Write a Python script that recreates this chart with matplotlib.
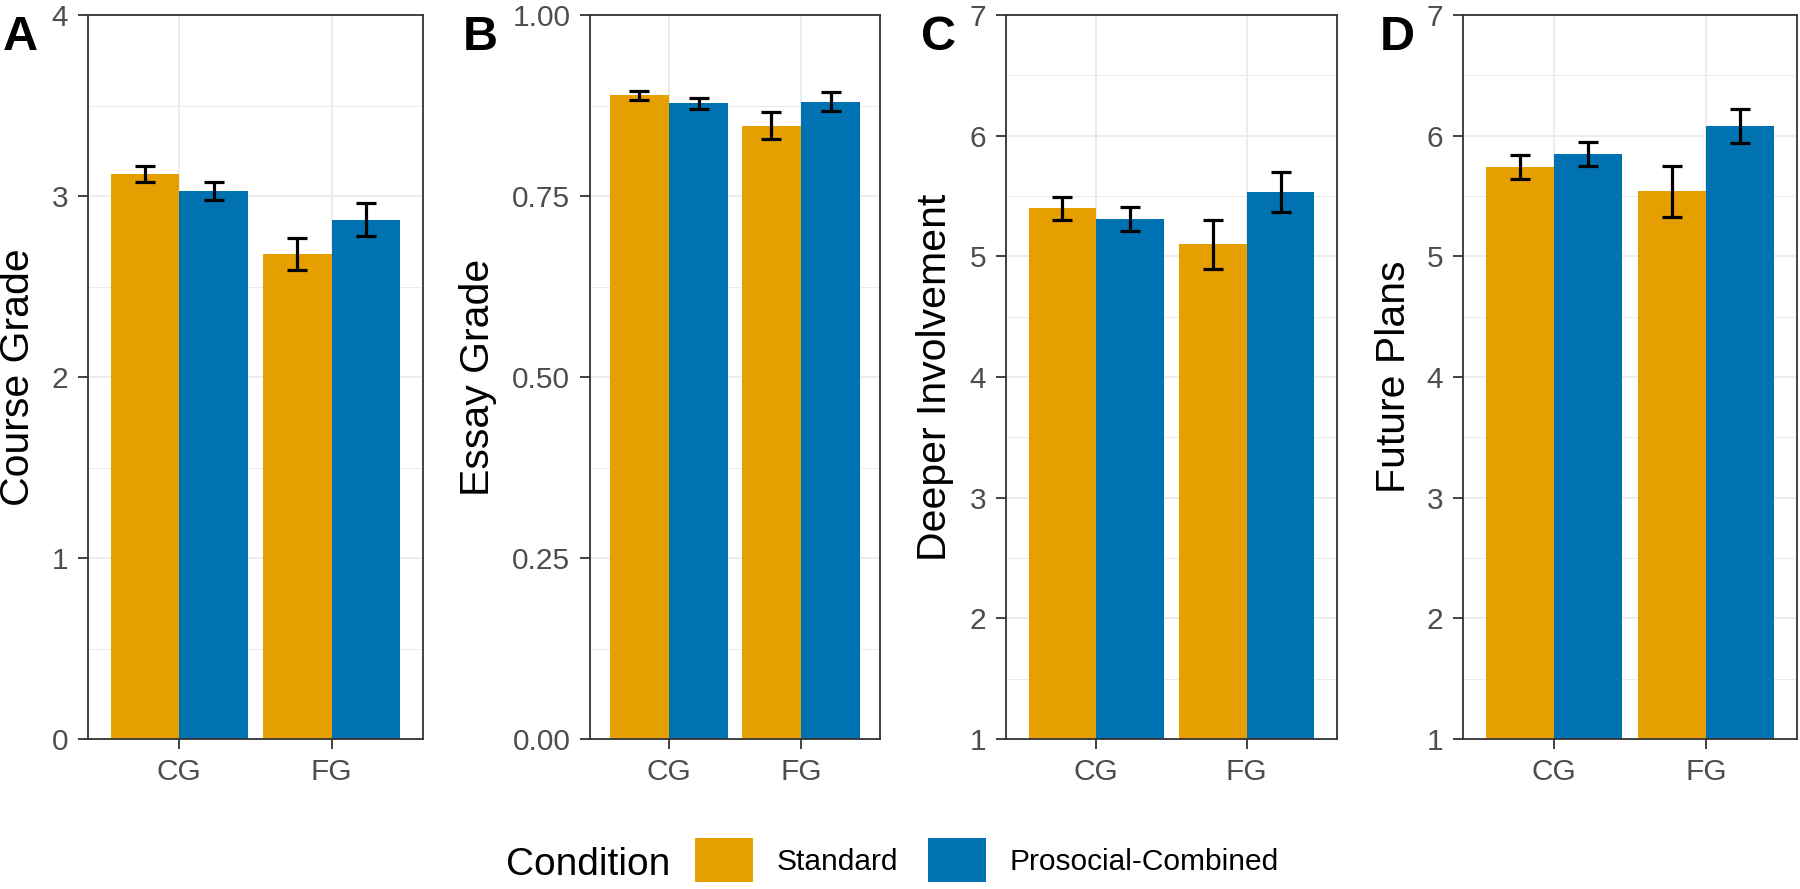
import matplotlib.pyplot as plt
import numpy as np
from matplotlib.patches import Patch
from matplotlib.ticker import MultipleLocator

plt.rcParams['font.family'] = ['Liberation Sans', 'DejaVu Sans']

groups = ['CG', 'FG']
conditions = ['Standard', 'Prosocial-Combined']
colors = ['#E69F00', '#0072B2']

# means and standard errors, CG then FG
course_std = [3.12, 2.68]
course_std_se = [0.045, 0.087]
course_pro = [3.03, 2.87]
course_pro_se = [0.05, 0.09]

essay_std = [0.889, 0.847]
essay_std_se = [0.0065, 0.0185]
essay_pro = [0.878, 0.880]
essay_pro_se = [0.0075, 0.013]

deeper_std = [5.40, 5.10]
deeper_std_se = [0.095, 0.205]
deeper_pro = [5.31, 5.53]
deeper_pro_se = [0.10, 0.165]

future_std = [5.74, 5.54]
future_std_se = [0.10, 0.21]
future_pro = [5.85, 6.08]
future_pro_se = [0.10, 0.14]

panels = [
    ('A', 'Course Grade', course_std, course_std_se, course_pro, course_pro_se, (0, 4), 1, '%g'),
    ('B', 'Essay Grade', essay_std, essay_std_se, essay_pro, essay_pro_se, (0, 1), 0.25, '%.2f'),
    ('C', 'Deeper Involvement', deeper_std, deeper_std_se, deeper_pro, deeper_pro_se, (1, 7), 1, '%g'),
    ('D', 'Future Plans', future_std, future_std_se, future_pro, future_pro_se, (1, 7), 1, '%g'),
]

W, H = 1800, 889
fig = plt.figure(figsize=(18, 8.89), dpi=100)

# pixel layout: axes left/right, y-label x centre, panel letter x
boxes = [(88, 423, 18, 3), (590, 880, 478, 463), (1006, 1337, 935, 921), (1463, 1797, 1394, 1380)]
top_px, bot_px = 15, 739

x = np.arange(1, len(groups) + 1)
bw = 0.45

for (letter, ylabel, s, s_se, p, p_se, ylim, step, fmt), (l, r, lab_x, let_x) in zip(panels, boxes):
    ax = fig.add_axes([l / W, 1 - bot_px / H, (r - l) / W, (bot_px - top_px) / H])
    ax.set_axisbelow(True)
    ax.bar(x - bw / 2, s, bw, color=colors[0], zorder=2)
    ax.bar(x + bw / 2, p, bw, color=colors[1], zorder=2)
    ax.errorbar(x - bw / 2, s, yerr=s_se, fmt='none', ecolor='black', elinewidth=2.3,
                capsize=7.5, capthick=2.3, zorder=3)
    ax.errorbar(x + bw / 2, p, yerr=p_se, fmt='none', ecolor='black', elinewidth=2.3,
                capsize=7.5, capthick=2.3, zorder=3)
    ax.set_xlim(0.4, 2.6)
    ax.set_ylim(*ylim)
    ax.set_xticks(x)
    ax.set_xticklabels(groups)
    ax.yaxis.set_major_locator(MultipleLocator(step))
    ax.yaxis.set_minor_locator(MultipleLocator(step / 2))
    ax.yaxis.set_major_formatter(plt.FormatStrFormatter(fmt))
    ax.grid(which='major', color='#EBEBEB', linewidth=1.3)
    ax.grid(which='minor', axis='y', color='#EBEBEB', linewidth=0.7)
    ax.tick_params(which='major', length=7.2, width=1.3, color='#333333',
                   labelsize=21.5, labelcolor='#4D4D4D')
    ax.tick_params(axis='y', pad=7)
    ax.tick_params(axis='x', pad=6.5)
    ax.tick_params(which='minor', length=0)
    for sp in ax.spines.values():
        sp.set_color('#333333')
        sp.set_linewidth(1.3)
    fig.text(lab_x / W, 1 - (top_px + bot_px) / 2 / H, ylabel, rotation=90,
             ha='center', va='center', fontsize=29.5)
    fig.text(let_x / W, 1 - 50 / H, letter, fontsize=35, fontweight='bold',
             ha='left', va='baseline')

fig.text(506 / W, 1 - 875 / H, 'Condition', fontsize=28, ha='left', va='baseline')
handles = [Patch(facecolor=c, edgecolor='none') for c in colors]
fig.legend(handles, conditions, loc='center left', bbox_to_anchor=(695 / W, 1 - 860 / H),
           ncol=2, frameon=False, fontsize=21.5, handlelength=1.94, handleheight=1.94,
           handletextpad=0.8, columnspacing=1.0, borderpad=0, borderaxespad=0)

fig.savefig('out.png', dpi=100)
